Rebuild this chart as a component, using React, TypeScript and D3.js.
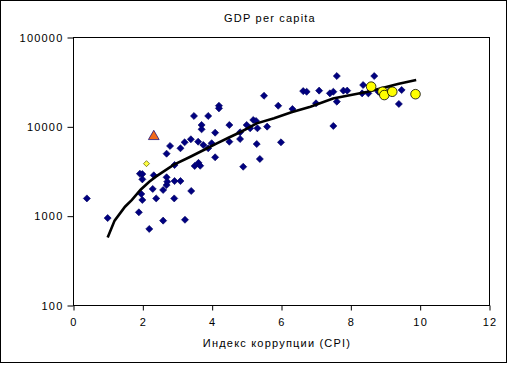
import React, { useEffect, useRef } from "react";
import * as d3 from "d3";

// main series: CPI vs GDP per capita
const cpi = [
  0.4, 1.0, 1.9, 1.97, 2.0, 1.93, 2.0, 2.0, 2.33, 2.2, 2.3, 2.4, 2.6, 2.6, 2.7, 2.7, 2.72, 2.93, 3.1, 2.92,
  3.23, 3.41, 2.93, 2.7, 2.8, 3.1, 3.22, 3.4, 3.51, 3.62, 3.67, 3.61, 3.76, 3.9, 4.0, 3.49, 3.9, 4.21, 4.21, 3.71,
  3.71, 4.1, 4.1, 4.51, 4.51, 4.82, 4.82, 5.01, 5.11, 5.2, 5.28, 5.32, 5.6, 5.3, 4.91, 5.39, 5.51, 5.92, 6.33, 6.64,
  6.74, 6.0, 7.1, 7.41, 7.51, 7.8, 7.91, 7.61, 8.69, 8.37, 8.34, 8.52, 8.81, 9.48, 9.4, 7.61, 7.51, 7.01, 9.17,
];
const gdp = [
  1560, 940, 1090, 1750, 1500, 2950, 2920, 2550, 2830, 710, 1990, 1560, 1940, 880, 2200, 2690, 2400, 2440, 2440, 1560,
  900, 1890, 3690, 4940, 6030, 5680, 6620, 7160, 3600, 3900, 3620, 6730, 6180, 5680, 6470, 13060, 13060, 17000, 15900, 10350,
  9260, 8490, 4500, 10350, 6730, 8570, 7210, 10350, 9510, 11780, 11480, 9510, 9920, 6340, 3530, 4310, 22000, 17000, 15630, 24800,
  24400, 6620, 25100, 23400, 24400, 25100, 25100, 36560, 36560, 29000, 23400, 23400, 24400, 25500, 17800, 18900, 10100, 18100, 26200,
];

// highlighted countries
const circleCpi = [8.6, 8.93, 8.98, 9.21, 9.88];
const circleGdp = [27800, 24400, 22400, 24400, 22900];
const triangleCpi = [2.33];
const triangleGdp = [7700];
const smallCpi = [2.12];
const smallGdp = [3820];

// trend (moving average)
const trendCpi = [1.0, 1.2, 1.5, 1.7, 1.95, 2.2, 2.4, 2.9, 3.4, 3.8, 4.15, 4.5, 4.85, 5.3, 5.8, 6.3, 6.85, 7.5, 8.5, 9.4, 9.9];
const trendGdp = [570, 880, 1260, 1500, 1950, 2400, 2750, 3700, 4600, 5500, 6450, 7500, 8700, 10800, 12300, 14400, 16600, 20500, 24400, 30000, 33000];

const xTicks = [0, 2, 4, 6, 8, 10, 12];
const yTicks = [100, 1000, 10000, 100000];

const FONT = "'Liberation Sans', Arial, sans-serif";

export default function App() {
  const ref = useRef<SVGSVGElement>(null);

  useEffect(() => {
    const svg = d3.select(ref.current);
    svg.selectAll("*").remove();

    const left = 73, right = 489, top = 37, bottom = 305;

    const x = d3.scaleLinear().domain([0, 12]).range([left, right]);
    const y = d3.scaleLog().domain([100, 100000]).range([bottom, top]);

    // chart frame
    svg.append("rect")
      .attr("x", 0.5).attr("y", 0.5)
      .attr("width", 506).attr("height", 362)
      .attr("fill", "white").attr("stroke", "black");

    // plot area
    svg.append("rect")
      .attr("x", left + 0.5).attr("y", top + 0.5)
      .attr("width", right - left).attr("height", bottom - top)
      .attr("fill", "white").attr("stroke", "black");

    const styleAxis = (g: any) => {
      g.select(".domain").remove();
      g.selectAll("line").attr("stroke", "black");
      g.selectAll("text")
        .attr("fill", "black")
        .style("font-family", FONT)
        .style("font-size", "11px")
        .style("letter-spacing", "1.2px");
    };

    svg.append("g")
      .attr("transform", `translate(0.5, ${bottom + 0.5})`)
      .call(d3.axisBottom(x).tickValues(xTicks).tickSize(5).tickPadding(8).tickFormat(d3.format("d")))
      .call(styleAxis);

    svg.append("g")
      .attr("transform", `translate(${left + 0.5}, 0.5)`)
      .call(d3.axisLeft(y).tickValues(yTicks).tickSize(6).tickPadding(4).tickFormat(d3.format("d")))
      .call(styleAxis);

    // title
    svg.append("text")
      .attr("x", 270).attr("y", 22)
      .attr("text-anchor", "middle")
      .style("font-family", FONT).style("font-size", "11px").style("letter-spacing", "1.2px")
      .text("GDP per capita");

    // x label
    svg.append("text")
      .attr("x", 277).attr("y", 347)
      .attr("text-anchor", "middle")
      .style("font-family", FONT).style("font-size", "11px").style("letter-spacing", "1.2px")
      .text("Индекс коррупции (CPI)");

    // diamonds
    const diamond = d3.symbol().type(d3.symbolSquare).size(25);
    svg.append("g")
      .selectAll("path")
      .data(cpi.map((c, i) => [c, gdp[i]]))
      .join("path")
      .attr("d", diamond)
      .attr("transform", d => `translate(${x(d[0])},${y(d[1])}) rotate(45)`)
      .attr("fill", "#000080")
      .attr("stroke", "#000060")
      .attr("stroke-width", 0.6);

    // trend line
    const line = d3.line<number>()
      .x((d, i) => x(trendCpi[i]))
      .y(d => y(d))
      .curve(d3.curveLinear);
    svg.append("path")
      .datum(trendGdp)
      .attr("d", line)
      .attr("fill", "none")
      .attr("stroke", "black")
      .attr("stroke-width", 2.6);

    // small yellow diamond
    svg.append("g")
      .selectAll("path")
      .data(smallCpi.map((c, i) => [c, smallGdp[i]]))
      .join("path")
      .attr("d", d3.symbol().type(d3.symbolSquare).size(18))
      .attr("transform", d => `translate(${x(d[0])},${y(d[1])}) rotate(45)`)
      .attr("fill", "#FFFF40")
      .attr("stroke", "#606000")
      .attr("stroke-width", 0.7);

    // triangle
    svg.append("g")
      .selectAll("path")
      .data(triangleCpi.map((c, i) => [c, triangleGdp[i]]))
      .join("path")
      .attr("d", d3.symbol().type(d3.symbolTriangle).size(50))
      .attr("transform", d => `translate(${x(d[0])},${y(d[1])})`)
      .attr("fill", "#F26A1B")
      .attr("stroke", "#000080")
      .attr("stroke-width", 0.7);

    // yellow circles
    svg.append("g")
      .selectAll("circle")
      .data(circleCpi.map((c, i) => [c, circleGdp[i]]))
      .join("circle")
      .attr("cx", d => x(d[0]))
      .attr("cy", d => y(d[1]))
      .attr("r", 4.8)
      .attr("fill", "#FFFF00")
      .attr("stroke", "black")
      .attr("stroke-width", 0.8);
  }, []);

  return (
    <svg
      ref={ref}
      width={510}
      height={365}
      style={{ position: "absolute", left: 0, top: 0, background: "white" }}
    />
  );
}
